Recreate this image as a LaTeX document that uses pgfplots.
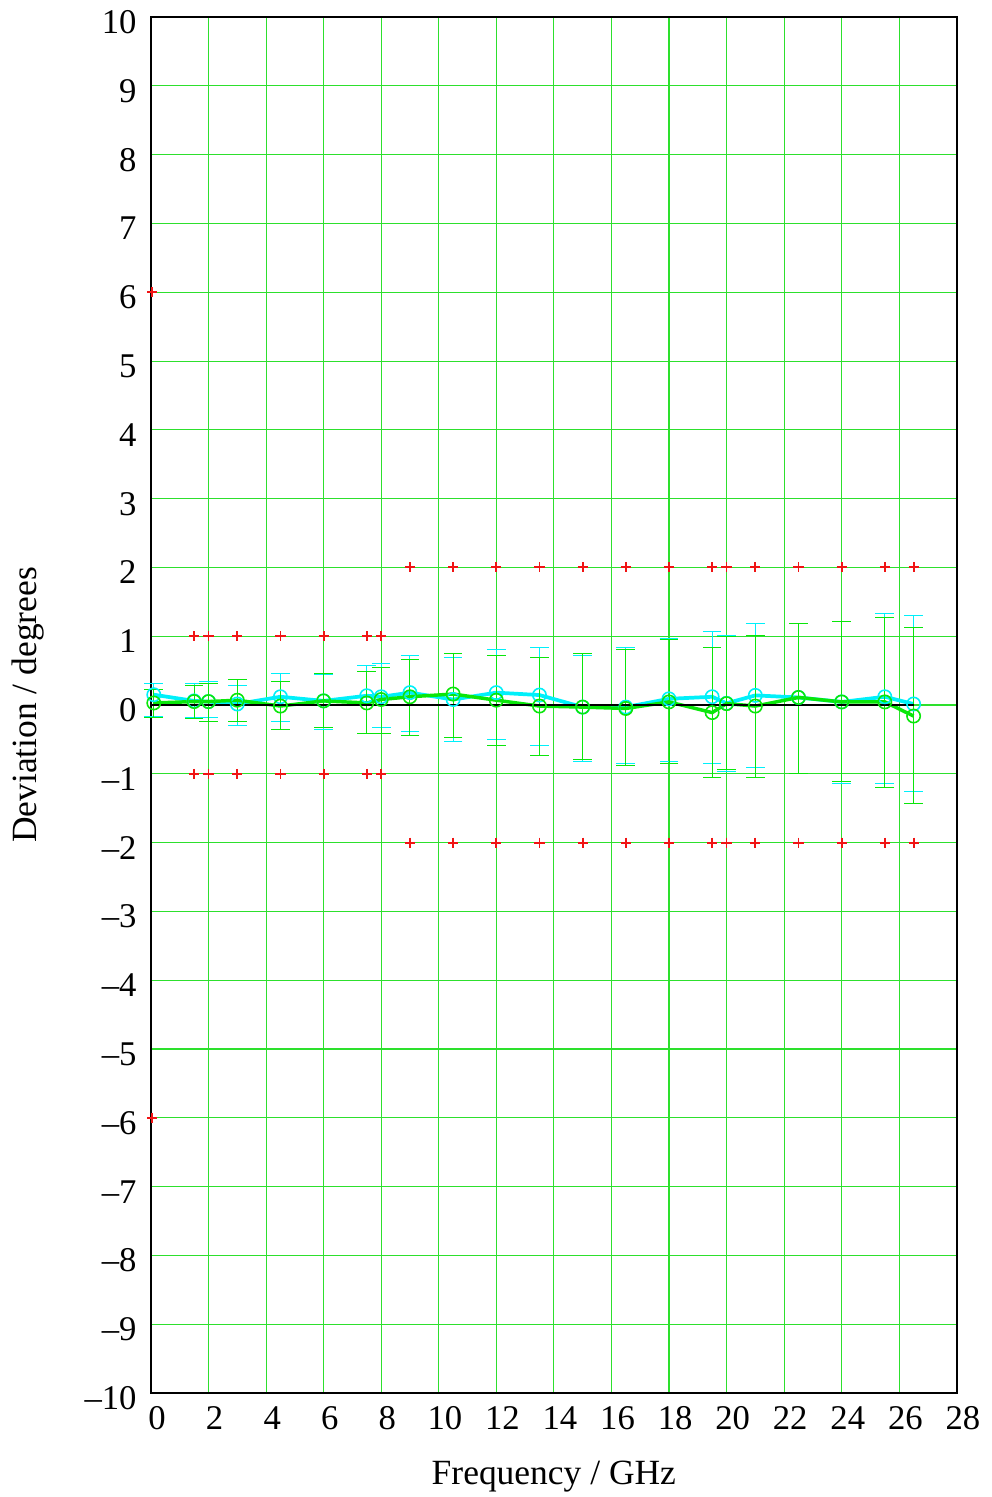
\documentclass[border=0pt]{standalone}
\usepackage{fontspec}
\setmainfont{Liberation Serif}
\usepackage{pgfplots}
\usepackage{pgfplotstable}
\pgfplotsset{compat=1.18}
\definecolor{gridgreen}{RGB}{45,224,45}
\definecolor{lcyan}{RGB}{0,240,250}
\definecolor{lgreen}{RGB}{10,230,10}
\definecolor{lred}{RGB}{240,20,20}

\pgfplotstableread{
x y ep em
0.1 0.15 0.17 0.32
1.5 0.06 0.26 0.24
2 0.05 0.29 0.23
3 0.015 0.275 0.315
4.5 0.12 0.34 0.36
6 0.06 0.38 0.41
7.5 0.135 0.445 0.545
8 0.12 0.49 0.44
9 0.18 0.54 0.56
10.5 0.08 0.61 0.61
12 0.18 0.63 0.68
13.5 0.145 0.695 0.735
15 -0.03 0.75 0.79
16.5 -0.03 0.87 0.82
18 0.09 0.88 0.91
19.5 0.12 0.95 0.97
20 0.025 0.985 0.985
21 0.14 1.05 1.05
22.5 0.11 1.08 1.10
24 0.045 1.175 1.185
25.5 0.12 1.21 1.26
26.5 0.015 1.285 1.265
}\cyandata

\pgfplotstableread{
x y ep em
0.1 0.03 0.20 0.21
1.5 0.05 0.24 0.25
2 0.05 0.27 0.29
3 0.07 0.30 0.31
4.5 -0.015 0.355 0.335
6 0.06 0.40 0.38
7.5 0.03 0.46 0.44
8 0.08 0.47 0.49
9 0.12 0.54 0.56
10.5 0.16 0.59 0.63
12 0.07 0.65 0.66
13.5 -0.015 0.705 0.715
15 -0.03 0.78 0.76
16.5 -0.05 0.86 0.83
18 0.045 0.905 0.895
19.5 -0.11 0.95 0.94
20 0.02 0.98 0.96
21 -0.015 1.025 1.035
22.5 0.11 1.08 1.10
24 0.045 1.175 1.155
25.5 0.045 1.225 1.245
26.5 -0.16 1.29 1.27
}\greendata

\pgfplotstableread{
x y
0.05 6
0.05 -6
1.5 1
1.5 -1
2 1
2 -1
3 1
3 -1
4.5 1
4.5 -1
6 1
6 -1
7.5 1
7.5 -1
8 1
8 -1
9 2
9 -2
10.5 2
10.5 -2
12 2
12 -2
13.5 2
13.5 -2
15 2
15 -2
16.5 2
16.5 -2
18 2
18 -2
19.5 2
19.5 -2
20 2
20 -2
21 2
21 -2
22.5 2
22.5 -2
24 2
24 -2
25.5 2
25.5 -2
26.5 2
26.5 -2
}\limitdata

\begin{document}
\begin{tikzpicture}
\begin{axis}[
  scale only axis,
  width=302.2pt, height=516pt,
  xmin=0, xmax=28, ymin=-10, ymax=10,
  xtick={0,2,...,28},
  ytick={-10,-9,...,10},
  yticklabels={--10,--9,--8,--7,--6,--5,--4,--3,--2,--1,0,1,2,3,4,5,6,7,8,9,10},
  /pgf/number format/assume math mode=true,
  tick label style={font=\fontsize{13}{15}\selectfont, inner sep=0pt},
  xticklabel style={anchor=north, xshift=2.3pt, yshift=-4.9pt},
  yticklabel style={anchor=east, xshift=-5.2pt, yshift=-1.9pt},
  label style={font=\fontsize{13.3}{15}\selectfont, inner sep=0pt},
  xlabel={Frequency / GHz},
  ylabel={Deviation / degrees},
  xlabel style={at={(axis description cs:0.5,-0.061)}, anchor=center},
  ylabel style={at={(axis description cs:-0.152,0.5)}, anchor=center, rotate=0},
  major tick length=0pt,
  grid=major,
  major grid style={gridgreen, line width=0.4pt},
  axis line style={black, line width=0.8pt},
  clip=false,
]
\path (rel axis cs:0,0) ++(-56.6pt,-39pt) (rel axis cs:1,1) ++(13.1pt,6.4pt);
\addplot[lcyan, line width=1.4pt, mark=o, mark size=2.5pt,
  mark options={line width=0.6pt},
  error bars/.cd, y dir=both, y explicit,
  error bar style={lcyan, line width=0.35pt},
  error mark options={rotate=90, mark size=3.5pt, lcyan, line width=0.35pt}]
  table[x=x, y=y, y error plus=ep, y error minus=em]{\cyandata};
\addplot[lgreen, line width=1.3pt, mark=o, mark size=2.5pt,
  mark options={line width=0.6pt},
  error bars/.cd, y dir=both, y explicit,
  error bar style={lgreen, line width=0.35pt},
  error mark options={rotate=90, mark size=3.5pt, lgreen, line width=0.35pt}]
  table[x=x, y=y, y error plus=ep, y error minus=em]{\greendata};
\addplot[black, line width=0.7pt] coordinates {(0,0) (26.5,0)};
\addplot[only marks, mark=+, mark size=1.9pt, lred, mark options={line width=0.7pt}]
  table[x=x, y=y]{\limitdata};
\end{axis}
\end{tikzpicture}
\end{document}
